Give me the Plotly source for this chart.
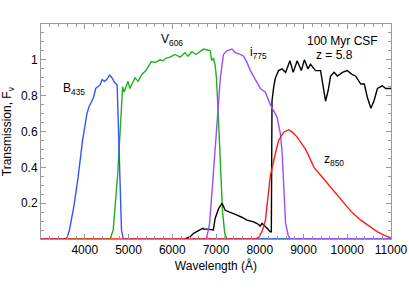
import plotly.graph_objects as go

# B435 filter
b_wl = [3000, 3550, 3600, 3650, 3750, 3850, 3950, 4000, 4050, 4100, 4200, 4250, 4300, 4350, 4400, 4450,
        4500, 4570, 4620, 4680, 4740, 4770, 4800, 4840, 4880, 11000]
b_tr = [0, 0, 0.01, 0.05, 0.18, 0.35, 0.55, 0.64, 0.70, 0.74, 0.79, 0.84, 0.85, 0.86, 0.89, 0.88,
        0.89, 0.915, 0.90, 0.875, 0.86, 0.6, 0.25, 0.05, 0, 0]

# V606 filter
v_wl = [3000, 4580, 4650, 4750, 4820, 4865, 4900, 4990, 5030, 5150, 5220, 5310, 5400, 5520, 5610, 5720,
        5790, 5860, 5950, 6060, 6180, 6290, 6360, 6450, 6540, 6630, 6720, 6800, 6870, 6900, 6940,
        6980, 7010, 7050, 7100, 7150, 7200, 7250, 11000]
v_tr = [0, 0, 0.05, 0.35, 0.65, 0.85, 0.82, 0.88, 0.84, 0.90, 0.88, 0.92, 0.94, 0.99, 0.985, 1.0,
        0.995, 1.01, 1.015, 1.03, 1.015, 1.04, 1.02, 1.045, 1.03, 1.045, 1.06, 1.055, 1.05, 0.995, 1.01,
        0.97, 0.9, 0.7, 0.45, 0.15, 0.03, 0, 0]

# i775 filter
i_wl = [3000, 6780, 6850, 6920, 6980, 7040, 7100, 7170, 7250, 7365, 7440, 7555, 7630, 7700, 7785, 7900,
        8015, 8130, 8240, 8395, 8470, 8510, 8550, 8590, 8650, 8700, 11000]
i_tr = [0, 0, 0.08, 0.3, 0.5, 0.75, 0.9, 1.03, 1.05, 1.06, 1.04, 1.03, 1.02, 0.99, 0.94, 0.89,
        0.84, 0.82, 0.75, 0.68, 0.59, 0.49, 0.3, 0.09, 0.02, 0, 0]

# z850 filter
z_wl = [3000, 7900, 7980, 8050, 8130, 8240, 8360, 8430, 8550, 8660, 8750, 8850, 9050, 9240, 9430, 9620,
        9920, 10100, 10310, 10500, 10690, 10850, 11000]
z_tr = [0, 0, 0.01, 0.04, 0.105, 0.35, 0.48, 0.55, 0.596, 0.61, 0.595, 0.57, 0.50, 0.40, 0.345, 0.29,
        0.2, 0.15, 0.105, 0.07, 0.04, 0.02, 0.005]

# 100 Myr CSF spectrum at z = 5.8
s_wl = [6290, 6410, 6480, 6560, 6640, 6700, 6710, 6800, 6940, 6980, 7060, 7140, 7210, 7330, 7400, 7480,
        7600, 7710, 7860, 7950, 8010, 8050, 8170, 8240, 8265, 8280, 8320, 8360, 8430, 8510, 8590,
        8690, 8765, 8855, 8950, 9020, 9100, 9160, 9275, 9390, 9450, 9505, 9565, 9620, 9700, 9775,
        9890, 10000, 10120, 10190, 10310, 10390, 10460, 10540, 10610, 10690, 10800, 10880, 11000]
s_fl = [0, 0.013, 0.03, 0.04, 0.05, 0.06, 0.055, 0.055, 0.05, 0.115, 0.17, 0.2, 0.16, 0.15, 0.14, 0.133,
        0.12, 0.105, 0.096, 0.085, 0.072, 0.087, 0.06, 0.04, 0.04, 0.77, 0.85, 0.9, 0.94, 0.95, 0.93,
        0.995, 0.93, 0.995, 0.94, 1.0, 0.95, 0.975, 0.94, 0.94, 0.85, 0.77, 0.83, 0.91, 0.93, 0.91,
        0.93, 0.94, 0.917, 0.91, 0.865, 0.865, 0.79, 0.73, 0.77, 0.84, 0.855, 0.84, 0.84]

x_ticks = [4000, 5000, 6000, 7000, 8000, 9000, 10000, 11000]
x_ticklabels = ["4000", "5000", "6000", "7000", "8000", "9000", "10000", "11000"]
y_ticks = [0.2, 0.4, 0.6, 0.8, 1.0]
y_ticklabels = ["0.2", "0.4", "0.6", "0.8", "1"]

FONT = "Liberation Sans, Arial, sans-serif"

fig = go.Figure()
fig.add_trace(go.Scatter(x=v_wl, y=v_tr, mode="lines", line=dict(color="#1fb01f", width=1.4)))
fig.add_trace(go.Scatter(x=b_wl, y=b_tr, mode="lines", line=dict(color="#3355ff", width=1.4)))
fig.add_trace(go.Scatter(x=s_wl, y=s_fl, mode="lines", line=dict(color="black", width=1.4)))
i_start = i_wl.index(6780)
i_mid = i_wl.index(8590)
fig.add_trace(go.Scatter(x=i_wl[i_start:i_mid + 1], y=i_tr[i_start:i_mid + 1], mode="lines",
                         line=dict(color="#9a4dff", width=1.4)))
fig.add_trace(go.Scatter(x=z_wl, y=z_tr, mode="lines", line=dict(color="#ff1a1a", width=1.4)))
fig.add_trace(go.Scatter(x=i_wl[i_mid:], y=i_tr[i_mid:], mode="lines",
                         line=dict(color="#9a4dff", width=1.4)))

ann_font = dict(family=FONT, size=12, color="black")
annotations = [
    dict(x=3750, y=0.84, text="B<sub>435</sub>"),
    dict(x=6000, y=1.11, text="V<sub>606</sub>"),
    dict(x=7980, y=1.04, text="i<sub>775</sub>"),
    dict(x=9900, y=1.105, text="100 Myr CSF"),
    dict(x=9700, y=1.025, text="z = 5.8"),
    dict(x=9700, y=0.44, text="z<sub>850</sub>"),
]
for a in annotations:
    a.update(xref="x", yref="y", showarrow=False, font=ann_font)
# y-axis title placed in paper coordinates
annotations.append(dict(xref="paper", yref="paper", x=-0.095, xanchor="center", y=0.5, textangle=-90,
                        text="Transmission, F<sub>ν</sub>", showarrow=False, font=ann_font))

axis_common = dict(
    showline=True, linecolor="#9a9a9a", linewidth=1, mirror="ticks",
    ticks="inside", ticklen=5, tickcolor="#9a9a9a", tickwidth=1,
    showgrid=False, zeroline=False, automargin=False,
    tickfont=dict(family=FONT, size=12, color="black"),
)

fig.update_layout(
    width=409, height=298,
    margin=dict(l=41, r=18, t=24, b=59),
    paper_bgcolor="white", plot_bgcolor="white",
    showlegend=False,
    annotations=annotations,
    xaxis=dict(range=[3000, 11000], tickvals=x_ticks, ticktext=x_ticklabels,
               minor=dict(dtick=200, ticks="inside", ticklen=3, tickcolor="#9a9a9a"),
               title=dict(text="Wavelength (Å)", font=dict(family=FONT, size=12, color="black"), standoff=5),
               **axis_common),
    yaxis=dict(range=[0, 1.2], tickvals=y_ticks, ticktext=y_ticklabels,
               minor=dict(dtick=0.05, ticks="inside", ticklen=3, tickcolor="#9a9a9a"),
               **axis_common),
)

fig.write_html("out.html", config={"displayModeBar": False},
               post_script="document.body.style.margin='0';")
